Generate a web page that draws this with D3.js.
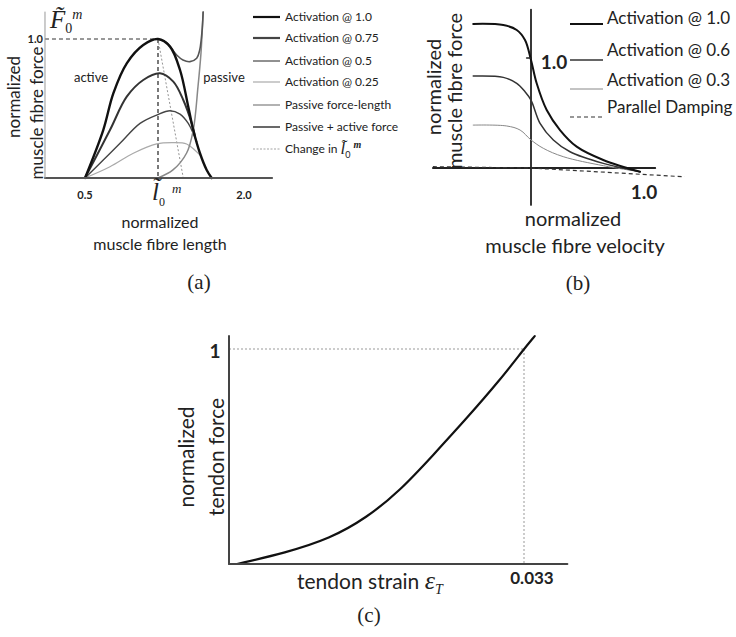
<!DOCTYPE html>
<html>
<head>
<meta charset="utf-8">
<script src="https://cdn.jsdelivr.net/npm/d3@7"></script>
<style>
  body { margin: 0; background: #fff; }
  svg { display: block; }
  text { font-family: Lato, "Open Sans", sans-serif; fill: #222; }
  .math { font-family: "Liberation Serif", "DejaVu Serif", serif; font-style: italic; }
  .cap { font-family: "Liberation Serif", "DejaVu Serif", serif; font-size: 21px; }
</style>
</head>
<body>
<script>
// ---- panel (a): force-length, [normalized length, normalized force]
var lenAct100 = [[0.5,0],[0.625,0.345],[0.694,0.609],[0.786,0.825],[0.899,0.957],[1.0,1.0],[1.14,0.945],[1.256,0.777],[1.352,0.513],[1.41,0.345],[1.488,0.178],[1.566,0.058],[1.624,0]];
var lenAct075 = [[0.5,0],[0.671,0.345],[0.786,0.585],[0.899,0.705],[1.023,0.753],[1.178,0.693],[1.294,0.561],[1.392,0.393],[1.43,0.3]];
var lenAct050 = [[0.5,0],[0.625,0.13],[0.74,0.25],[0.877,0.393],[0.991,0.453],[1.14,0.484],[1.256,0.46],[1.352,0.393],[1.41,0.32],[1.45,0.26]];
var lenAct025 = [[0.5,0],[0.671,0.081],[0.831,0.178],[0.991,0.245],[1.178,0.254],[1.333,0.245],[1.43,0.2],[1.488,0.165]];
var lenPassive = [[1.0,0],[1.174,0.058],[1.333,0.18],[1.41,0.345],[1.465,0.657],[1.5,0.9],[1.515,1.065],[1.525,1.194]];
var lenTotal = [[1.0,1.0],[1.093,0.978],[1.217,0.885],[1.29,0.849],[1.372,0.837],[1.45,0.861],[1.485,0.921],[1.502,0.993],[1.515,1.08],[1.525,1.194]];
var lenShift = [[1.0,1.0],[1.294,0]];
var lenTicks = [0.5, 2.0];
var lenLegend = ["Activation @ 1.0","Activation @ 0.75","Activation @ 0.5","Activation @ 0.25","Passive force-length","Passive + active force","Change in "];

// ---- panel (b): force-velocity, [normalized velocity, normalized force]
var velAct10 = [[-0.53,1.31],[-0.254,1.3],[-0.131,1.255],[-0.055,1.164],[0,0.982],[0.052,0.77],[0.144,0.527],[0.266,0.345],[0.419,0.194],[0.663,0.073],[1.0,-0.034]];
var velAct06 = [[-0.53,0.836],[-0.254,0.824],[-0.131,0.77],[-0.055,0.694],[0,0.618],[0.083,0.406],[0.205,0.255],[0.358,0.148],[0.663,0.042],[1.0,-0.034]];
var velAct03 = [[-0.53,0.39],[-0.223,0.382],[-0.1,0.345],[0,0.255],[0.113,0.179],[0.296,0.103],[0.663,0.021],[1.0,-0.034]];
var velDamping = [[-0.9,0.012],[0,0],[1.41,-0.08]];
var velLegend = ["Activation @ 1.0","Activation @ 0.6","Activation @ 0.3","Parallel Damping"];

// ---- panel (c): tendon, [strain, normalized force]
var tendonCurve = [[0.0009,0],[0.0063,0.052],[0.0113,0.118],[0.0154,0.215],[0.0191,0.34],[0.0228,0.505],[0.0266,0.678],[0.0303,0.855],[0.033,1.0],[0.0342,1.06]];
var strainRef = 0.033;

var svg = d3.select("body").append("svg").attr("width", 736).attr("height", 637);

function drawLine(g, data, x, y, color, w, dash, curve) {
  var line = d3.line().x(function (d) { return x(d[0]); }).y(function (d) { return y(d[1]); })
    .curve(curve || d3.curveCatmullRom.alpha(0.5));
  var p = g.append("path").datum(data).attr("d", line)
    .attr("fill", "none").attr("stroke", color).attr("stroke-width", w)
    .attr("stroke-linejoin", "round").attr("stroke-linecap", "round");
  if (dash) p.attr("stroke-dasharray", dash).attr("stroke-linecap", "butt");
  return p;
}

// ================= (a) =================
var gA = svg.append("g");
var xA = d3.scaleLinear().domain([0.5, 1.0, 2.0]).range([85, 158, 244]);
var yA = d3.scaleLinear().domain([0, 1]).range([178, 39]);

// reference dashes at optimum
drawLine(gA, [[0.226,1],[1,1]], xA, yA, "#333", 1, "4,3", d3.curveLinear);
drawLine(gA, [[1,1],[1,0]], xA, yA, "#333", 1.3, "4,3", d3.curveLinear);
drawLine(gA, lenShift, xA, yA, "#888", 0.9, "2,2", d3.curveLinear);

drawLine(gA, lenAct025, xA, yA, "#aaa", 1.2);
drawLine(gA, lenAct050, xA, yA, "#444", 1.4);
drawLine(gA, lenAct075, xA, yA, "#333", 2);
drawLine(gA, lenPassive, xA, yA, "#888", 1.5);
drawLine(gA, lenTotal, xA, yA, "#555", 1.6);
drawLine(gA, lenAct100, xA, yA, "#111", 2.4);

// axes
drawLine(gA, [[0.226,0],[2.326,0]], xA, yA, "#555", 2.2, null, d3.curveLinear);
drawLine(gA, [[0.226,0],[0.226,1.194]], xA, yA, "#999", 1, null, d3.curveLinear);

gA.append("text").attr("x", xA(0.226) - 2).attr("y", yA(1) + 4).attr("text-anchor", "end")
  .attr("font-size", 11).attr("font-weight", "bold").text("1.0");
gA.selectAll(".tk").data(lenTicks).enter().append("text")
  .attr("x", function (d) { return xA(d); }).attr("y", 199).attr("text-anchor", "middle")
  .attr("font-size", 11).attr("font-weight", "bold").text(function (d) { return d.toFixed(1); });

// F0 m label
var fl = gA.append("text").attr("class", "math").attr("x", 50).attr("y", 28).attr("font-size", 25);
fl.append("tspan").text("F\u0303");
fl.append("tspan").attr("font-size", 14).attr("font-style", "normal").attr("dy", 5).text("0");
fl.append("tspan").attr("font-size", 14).attr("dy", -14).text("m");

// l0 m label
var ll = gA.append("text").attr("class", "math").attr("x", 152).attr("y", 200).attr("font-size", 25);
ll.append("tspan").text("l\u0303");
ll.append("tspan").attr("font-size", 12).attr("font-style", "normal").attr("dy", 6).text("0");
ll.append("tspan").attr("font-size", 13).attr("dx", 7).attr("dy", -13).text("m");

gA.append("text").attr("x", 91).attr("y", 82).attr("text-anchor", "middle").attr("font-size", 13).attr("fill", "#444").text("active");
gA.append("text").attr("x", 224).attr("y", 82).attr("text-anchor", "middle").attr("font-size", 13).attr("fill", "#444").text("passive");

gA.append("text").attr("transform", "translate(20,97) rotate(-90)").attr("text-anchor", "middle").attr("font-size", 17).text("normalized");
gA.append("text").attr("transform", "translate(43,113) rotate(-90)").attr("text-anchor", "middle").attr("font-size", 17).text("muscle fibre force");
gA.append("text").attr("x", 160).attr("y", 228).attr("text-anchor", "middle").attr("font-size", 16).text("normalized");
gA.append("text").attr("x", 160).attr("y", 250).attr("text-anchor", "middle").attr("font-size", 16).text("muscle fibre length");
gA.append("text").attr("class", "cap").attr("x", 199).attr("y", 289).attr("text-anchor", "middle").text("(a)");

// legend (a)
var legA = [
  {c: "#111", w: 2.2}, {c: "#444", w: 2.2}, {c: "#222", w: 1}, {c: "#aaa", w: 1.2},
  {c: "#999", w: 1.5}, {c: "#444", w: 1.6}, {c: "#999", w: 0.9, dash: "2,1.5"}
];
var legRowsA = [17, 38, 61, 82, 105, 127, 149];
lenLegend.forEach(function (t, i) {
  var y = legRowsA[i];
  var s = legA[i];
  var ln = gA.append("line").attr("x1", 253).attr("x2", 280).attr("y1", y).attr("y2", y)
    .attr("stroke", s.c).attr("stroke-width", s.w);
  if (s.dash) ln.attr("stroke-dasharray", s.dash);
  var tx = gA.append("text").attr("x", 285).attr("y", y + 4).attr("font-size", 12).attr("fill", "#333").text(t);
  if (i === 6) {
    tx.append("tspan").attr("class", "math").attr("font-size", 17).attr("dy", 1).text("l\u0303");
    tx.append("tspan").attr("font-size", 9).attr("dy", 4).text("0");
    tx.append("tspan").attr("class", "math").attr("font-size", 10).attr("font-weight", "bold").attr("dx", 3).attr("dy", -10).text("m");
  }
});

// ================= (b) =================
var gB = svg.append("g");
var xB = d3.scaleLinear().domain([0, 1]).range([531, 640]);
var yB = d3.scaleLinear().domain([0, 1]).range([168, 58]);

drawLine(gB, [[-0.9,0],[1.14,0]], xB, yB, "#222", 1.8, null, d3.curveLinear);
drawLine(gB, [[0,1.44],[0,-0.336]], xB, yB, "#222", 1.8, null, d3.curveLinear);
drawLine(gB, velDamping, xB, yB, "#333", 1.2, "4,3", d3.curveLinear);
drawLine(gB, velAct03, xB, yB, "#888", 1);
drawLine(gB, velAct06, xB, yB, "#333", 1.5);
drawLine(gB, velAct10, xB, yB, "#111", 2);

drawLine(gB, [[-0.04,1.0],[0,1.0]], xB, yB, "#222", 1.5, null, d3.curveLinear);
gB.append("text").attr("x", 554).attr("y", 69).attr("text-anchor", "middle").attr("font-size", 19).attr("font-weight", "bold").text("1.0");
gB.append("text").attr("x", xB(1) + 4).attr("y", 199).attr("text-anchor", "middle").attr("font-size", 19).attr("font-weight", "bold").text("1.0");

gB.append("text").attr("transform", "translate(441,87) rotate(-90)").attr("text-anchor", "middle").attr("font-size", 20).text("normalized");
gB.append("text").attr("transform", "translate(462,91) rotate(-90)").attr("text-anchor", "middle").attr("font-size", 20).text("muscle fibre force");
gB.append("text").attr("x", 573).attr("y", 226).attr("text-anchor", "middle").attr("font-size", 20).text("normalized");
gB.append("text").attr("x", 575).attr("y", 253).attr("text-anchor", "middle").attr("font-size", 20).text("muscle fibre velocity");
gB.append("text").attr("class", "cap").attr("x", 578).attr("y", 290).attr("text-anchor", "middle").text("(b)");

var legB = [{c: "#111", w: 2, y: 24}, {c: "#333", w: 1.5, y: 60}, {c: "#888", w: 1, y: 89}, {c: "#333", w: 1.2, y: 117, dash: "4,3"}];
var legTextB = [18, 50, 80, 107];
velLegend.forEach(function (t, i) {
  var s = legB[i];
  var ln = gB.append("line").attr("x1", 570).attr("x2", 603).attr("y1", s.y).attr("y2", s.y)
    .attr("stroke", s.c).attr("stroke-width", s.w);
  if (s.dash) ln.attr("stroke-dasharray", s.dash);
  gB.append("text").attr("x", 607).attr("y", legTextB[i] + 6).attr("font-size", 17).attr("fill", "#222").text(t);
});

// ================= (c) =================
var gC = svg.append("g");
var xC = d3.scaleLinear().domain([0, strainRef]).range([229, 524]);
var yC = d3.scaleLinear().domain([0, 1]).range([564, 349]);

drawLine(gC, [[0,1],[strainRef,1]], xC, yC, "#999", 1, "2,2", d3.curveLinear);
drawLine(gC, [[strainRef,1],[strainRef,0]], xC, yC, "#999", 1, "2,2", d3.curveLinear);
drawLine(gC, tendonCurve, xC, yC, "#111", 2.2, null, d3.curveBasis);
drawLine(gC, [[0,0],[0.03785,0]], xC, yC, "#444", 2, null, d3.curveLinear);
drawLine(gC, [[0,0],[0,1.06]], xC, yC, "#444", 2, null, d3.curveLinear);

gC.append("text").attr("x", 215).attr("y", yC(1) + 9).attr("text-anchor", "middle").attr("font-size", 19).attr("font-weight", "bold").text("1");
gC.append("text").attr("x", xC(strainRef) + 8).attr("y", 584).attr("text-anchor", "middle").attr("font-size", 17).attr("font-weight", "bold").text("0.033");

gC.append("text").attr("transform", "translate(194,457) rotate(-90)").attr("text-anchor", "middle").attr("font-size", 21).text("normalized");
gC.append("text").attr("transform", "translate(224,457) rotate(-90)").attr("text-anchor", "middle").attr("font-size", 21).text("tendon force");
var xl = gC.append("text").attr("x", 297).attr("y", 589).attr("font-size", 21).text("tendon strain ");
xl.append("tspan").attr("class", "math").attr("font-size", 26).text("\u03b5");
xl.append("tspan").attr("class", "math").attr("font-size", 14).attr("dy", 5).text("T");
gC.append("text").attr("class", "cap").attr("x", 369).attr("y", 622).attr("text-anchor", "middle").text("(c)");
</script>
</body>
</html>
